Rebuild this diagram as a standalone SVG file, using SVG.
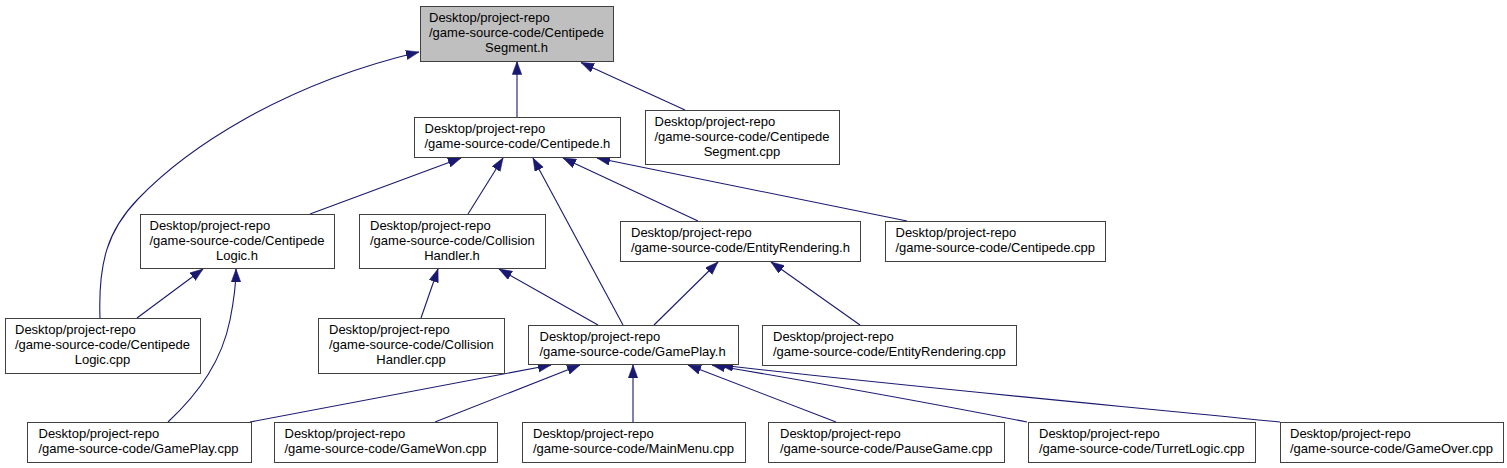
<svg xmlns="http://www.w3.org/2000/svg" width="1507" height="468" viewBox="0 0 1507 468">
<style>
.n rect{fill:#ffffff;stroke:#404040;stroke-width:1}
.n.root rect{fill:#bfbfbf}
.n text{font-family:"Liberation Sans",Arial,sans-serif;font-size:13px;fill:#000000}
.n text.c{text-anchor:middle}
#edges path{fill:none;stroke:#191970;stroke-width:1.1;marker-end:url(#ah)}
</style>
<defs>
<marker id="ah" markerUnits="userSpaceOnUse" markerWidth="14" markerHeight="10" refX="13" refY="4.75" orient="auto">
<path d="M0,0 L13,4.75 L0,9.5 z" fill="#191970" stroke="#191970" stroke-width="0.5"/>
</marker>
</defs>
<rect width="1507" height="468" fill="#ffffff"/>
<g id="edges">
<path d="M100,318 C98,262 108,230 138,199 C185,150 280,85 419,52"/>
<path d="M517,117 L517,61.5"/>
<path d="M685,110 L581,62.5"/>
<path d="M310,214 L461,158"/>
<path d="M468,214 L503,158"/>
<path d="M623,325 L533,158"/>
<path d="M698,221 L563,158"/>
<path d="M907,221 L597,158"/>
<path d="M137,318 L203,269"/>
<path d="M168,422 C200,392 222,360 230,320 C234,300 236,285 236,269"/>
<path d="M421,318 L438,269"/>
<path d="M598,325 L499,269"/>
<path d="M654,325 L718,262"/>
<path d="M860,325 L771,262"/>
<path d="M250,422 L551,365"/>
<path d="M435,422 L580,365"/>
<path d="M633,422 L633,365"/>
<path d="M836,422 L688,365"/>
<path d="M1027,422 C950,407 830,385 712,365"/>
<path d="M1280,422 C1100,404 900,386 720,365"/>
</g>
<g id="n_centipedesegment_h" class="n root">
<rect x="420.5" y="6.5" width="193" height="55"/>
<text x="429" y="21.5">Desktop/project-repo</text>
<text x="429" y="36.5">/game-source-code/Centipede</text>
<text class="c" x="516.5" y="51.5">Segment.h</text>
</g>
<g id="n_centipede_h" class="n">
<rect x="414.5" y="117.5" width="206" height="40"/>
<text x="424.5" y="133">Desktop/project-repo</text>
<text x="424.5" y="148">/game-source-code/Centipede.h</text>
</g>
<g id="n_centipedesegment_cpp" class="n">
<rect x="645.5" y="110.5" width="194" height="54"/>
<text x="654.5" y="126">Desktop/project-repo</text>
<text x="654.5" y="141">/game-source-code/Centipede</text>
<text class="c" x="742" y="156">Segment.cpp</text>
</g>
<g id="n_centipedelogic_h" class="n">
<rect x="140.5" y="214.5" width="194" height="54"/>
<text x="149.5" y="230">Desktop/project-repo</text>
<text x="149.5" y="245">/game-source-code/Centipede</text>
<text class="c" x="237" y="260">Logic.h</text>
</g>
<g id="n_collisionhandler_h" class="n">
<rect x="359.5" y="214.5" width="186" height="54"/>
<text x="370" y="230">Desktop/project-repo</text>
<text x="370" y="245">/game-source-code/Collision</text>
<text class="c" x="452" y="260">Handler.h</text>
</g>
<g id="n_entityrendering_h" class="n">
<rect x="620.5" y="221.5" width="240" height="40"/>
<text x="631" y="237">Desktop/project-repo</text>
<text x="631" y="252">/game-source-code/EntityRendering.h</text>
</g>
<g id="n_centipede_cpp" class="n">
<rect x="885.5" y="221.5" width="220" height="40"/>
<text x="895.5" y="237">Desktop/project-repo</text>
<text x="895.5" y="252">/game-source-code/Centipede.cpp</text>
</g>
<g id="n_centipedelogic_cpp" class="n">
<rect x="5.5" y="318.5" width="195" height="55"/>
<text x="15" y="334">Desktop/project-repo</text>
<text x="15" y="349">/game-source-code/Centipede</text>
<text class="c" x="102.5" y="364">Logic.cpp</text>
</g>
<g id="n_collisionhandler_cpp" class="n">
<rect x="318.5" y="318.5" width="186" height="55"/>
<text x="329" y="334">Desktop/project-repo</text>
<text x="329" y="349">/game-source-code/Collision</text>
<text class="c" x="411" y="364">Handler.cpp</text>
</g>
<g id="n_gameplay_h" class="n">
<rect x="528.5" y="325.5" width="210" height="39"/>
<text x="539.5" y="341">Desktop/project-repo</text>
<text x="539.5" y="356">/game-source-code/GamePlay.h</text>
</g>
<g id="n_entityrendering_cpp" class="n">
<rect x="762.5" y="325.5" width="254" height="40"/>
<text x="773" y="341">Desktop/project-repo</text>
<text x="773" y="356">/game-source-code/EntityRendering.cpp</text>
</g>
<g id="n_gameplay_cpp" class="n">
<rect x="27.5" y="422.5" width="224" height="40"/>
<text x="38.5" y="438">Desktop/project-repo</text>
<text x="38.5" y="453">/game-source-code/GamePlay.cpp</text>
</g>
<g id="n_gamewon_cpp" class="n">
<rect x="274.5" y="422.5" width="223" height="40"/>
<text x="284.5" y="438">Desktop/project-repo</text>
<text x="284.5" y="453">/game-source-code/GameWon.cpp</text>
</g>
<g id="n_mainmenu_cpp" class="n">
<rect x="522.5" y="422.5" width="223" height="40"/>
<text x="533" y="438">Desktop/project-repo</text>
<text x="533" y="453">/game-source-code/MainMenu.cpp</text>
</g>
<g id="n_pausegame_cpp" class="n">
<rect x="768.5" y="422.5" width="236" height="40"/>
<text x="780" y="438">Desktop/project-repo</text>
<text x="780" y="453">/game-source-code/PauseGame.cpp</text>
</g>
<g id="n_turretlogic_cpp" class="n">
<rect x="1028.5" y="422.5" width="227" height="40"/>
<text x="1039" y="438">Desktop/project-repo</text>
<text x="1039" y="453">/game-source-code/TurretLogic.cpp</text>
</g>
<g id="n_gameover_cpp" class="n">
<rect x="1280.5" y="422.5" width="223" height="40"/>
<text x="1290" y="438">Desktop/project-repo</text>
<text x="1290" y="453">/game-source-code/GameOver.cpp</text>
</g>
</svg>
